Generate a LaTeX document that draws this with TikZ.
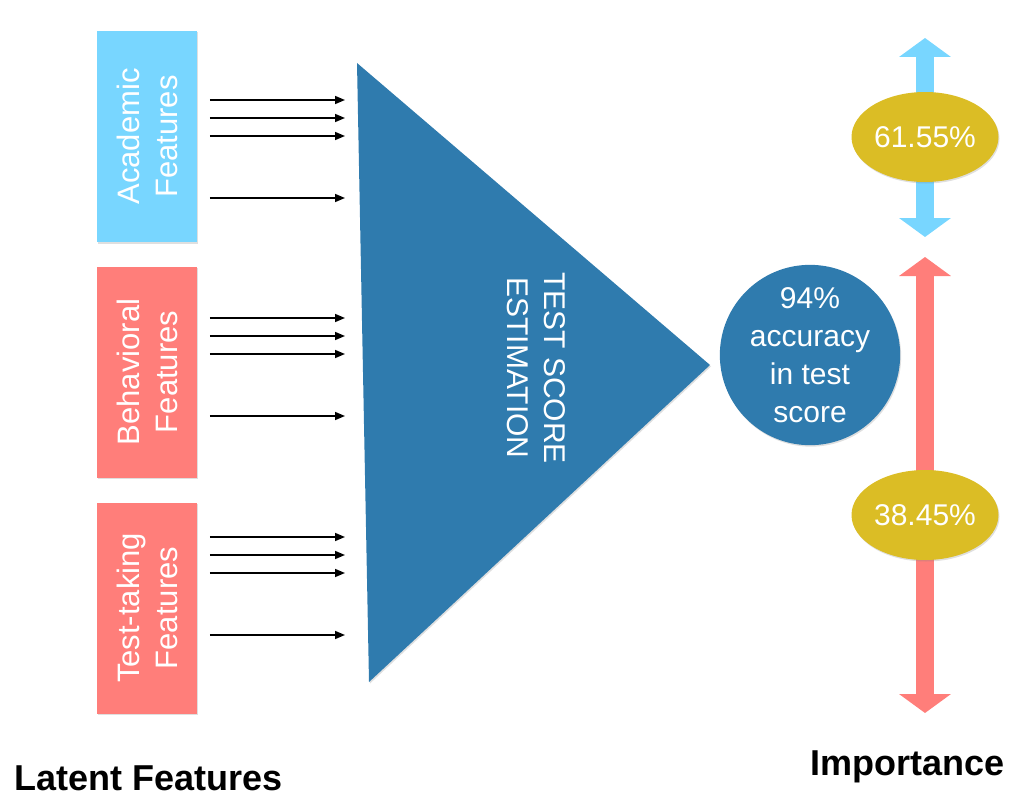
\documentclass[tikz,border=0pt]{standalone}
\usepackage{fontspec}
\setmainfont{Liberation Sans}
\usetikzlibrary{arrows.meta,shapes.geometric,shadows}

\definecolor{acadblue}{HTML}{78D6FF}
\definecolor{behavred}{HTML}{FF7E7A}
\definecolor{estblue}{HTML}{2F7BAE}
\definecolor{impgold}{HTML}{DBBD25}

\begin{document}
\begin{tikzpicture}[x=1pt, y=-1pt, >={Triangle[length=10pt,width=8pt]},
                    line width=1.6pt]
  \tikzstyle{soft}=[drop shadow={opacity=0.25,shadow xshift=1pt,shadow yshift=-1.5pt}]
  \tikzstyle{featbox}=[rectangle, rotate=90, minimum width=211pt, minimum height=100pt,
                       inner sep=0pt, align=center, text=white,
                       font=\fontsize{31}{38}\selectfont, soft]
  \tikzstyle{pct}=[ellipse, fill=impgold, minimum width=147pt, minimum height=90pt,
                   inner sep=0pt, text=white, font=\fontsize{30}{36}\selectfont, soft]
  \tikzstyle{bigarrow}=[line width=18pt,
                        {Triangle[length=19pt,width=51pt]}-{Triangle[length=19pt,width=51pt]}]
  \tikzstyle{caption}=[anchor=base west, inner sep=0pt,
                       font=\fontsize{36}{40}\selectfont\bfseries]

  \useasboundingbox (0,0) rectangle (1022,808);

  % latent feature groups
  \node[featbox, fill=acadblue]	(acad)	at (147,136.5)	{Academic\\Features};
  \node[featbox, fill=behavred]	(behav)	at (147,372)	{Behavioral\\Features};
  \node[featbox, fill=behavred]	(test)	at (147,608)	{Test-taking\\Features};

  % estimator
  \coordinate (tl)  at (357,63);
  \coordinate (bl)  at (369,682);
  \coordinate (tip) at (710,365);
  \coordinate (inx) at (345,0);
  \fill[estblue, soft] (tl) -- (tip) -- (bl) -- cycle;
  \node[rotate=-90, align=center, text=white, inner sep=0pt,
        font=\fontsize{30}{37}\selectfont] (est) at (536,368) {TEST SCORE\\ESTIMATION};

  \foreach \y in {100,118,136,198}
    \draw[->] ([xshift=12pt]acad.south |- 0,\y) -- (inx |- 0,\y);
  \foreach \y in {318,336,354,416}
    \draw[->] ([xshift=12pt]behav.south |- 0,\y) -- (inx |- 0,\y);
  \foreach \y in {537,555,573,635}
    \draw[->] ([xshift=12pt]test.south |- 0,\y) -- (inx |- 0,\y);

  \node[circle, fill=estblue, minimum size=178pt, inner sep=0pt, align=center,
        text=white, font=\fontsize{30}{38}\selectfont, soft] (acc) at (810,355)
        {94\%\\accuracy\\in test\\score};

  % importance
  \coordinate (aup) at (925,38);
  \coordinate (adn) at (925,237);
  \coordinate (bup) at (925,257);
  \coordinate (bdn) at (925,713);
  \draw[bigarrow, acadblue] (aup) -- (adn);
  \draw[bigarrow, behavred] (bup) -- (bdn);
  \node[pct] (hi) at (925,137) {61.55\%};
  \node[pct] (lo) at (925,515) {38.45\%};

  \node[caption] (latent) at (14,790)  {Latent Features};
  \node[caption] (imp)    at (810,775) {Importance};
\end{tikzpicture}
\end{document}
